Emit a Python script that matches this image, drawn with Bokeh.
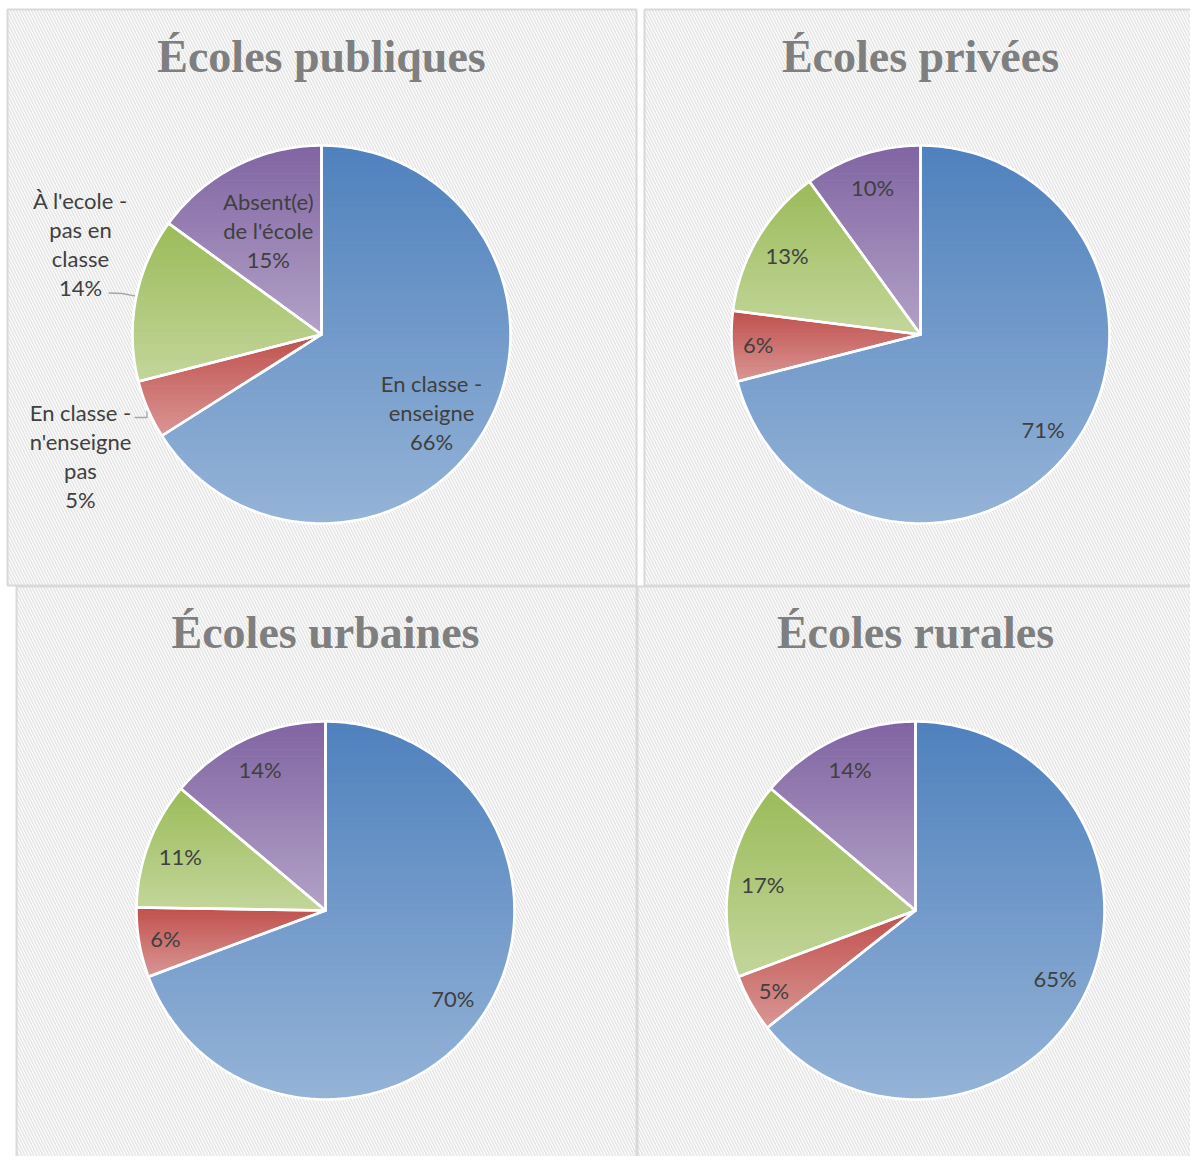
import numpy as np
from bokeh.plotting import figure
from bokeh.models import Range1d
from bokeh.core.properties import value
from bokeh.embed import file_html
from bokeh.resources import INLINE

# ---- data -------------------------------------------------------------
CATEGORIES = [
    "En classe -\nenseigne",
    "En classe -\nn'enseigne\npas",
    "À l'ecole -\npas en\nclasse",
    "Absent(e)\nde l'école",
]
TITLES = ["Écoles publiques", "Écoles privées", "Écoles urbaines", "Écoles rurales"]
PUBLIQUES = [66, 5, 14, 15]
PRIVEES = [71, 6, 13, 10]
URBAINES = [70, 6, 11, 14]
RURALES = [65, 5, 17, 14]
SERIES = [PUBLIQUES, PRIVEES, URBAINES, RURALES]

# ---- styling ----------------------------------------------------------
# top / bottom colour of the vertical gradient of each slice
GRAD_TOP = ["#4f81bd", "#c0504d", "#9bbb59", "#8064a2"]
GRAD_BOT = ["#95b3d7", "#d99694", "#c3d69b", "#b3a2c7"]
LABEL_COLOR = "#404040"
TITLE_COLOR = "#7f7f7f"
LABEL_FONT = value("Lato")
LABEL_SIZE = "22px"
LINE_STEP = 29  # px between lines of a multi-line label

# ---- layout (page pixels, y downwards) -------------------------------
W, H = 1190, 1156
BOXES = [(7, 9, 636, 585), (644, 9, 1198, 585), (16, 586, 636, 1164), (637, 586, 1198, 1164)]
CENTERS = [(321, 334), (920, 334), (325, 910), (915, 910)]
RADIUS = 189
TITLE_DY = -278  # title baseline relative to pie centre

p = figure(width=W, height=H, x_range=Range1d(0, W), y_range=Range1d(H, 0),
           output_backend="svg", toolbar_location=None, min_border=0,
           x_axis_location=None, y_axis_location=None)
p.grid.visible = False
p.outline_line_color = None
p.background_fill_color = "white"
p.border_fill_color = "white"

# hatched panel backgrounds
p.quad(left=[b[0] for b in BOXES], right=[b[2] for b in BOXES],
       top=[b[1] for b in BOXES], bottom=[b[3] for b in BOXES],
       fill_color="#fcfcfc", hatch_pattern="\\", hatch_color="#e4e4e4",
       hatch_scale=6, hatch_weight=1.4, line_color="#d9d9d9", line_width=2)


def hex_rgb(h):
    return np.array([int(h[i:i + 2], 16) for i in (1, 3, 5)], dtype=float)


def rgb_hex(c):
    return "#%02x%02x%02x" % tuple(int(round(v)) for v in c)


def sector(cx, cy, r, a0, a1):
    n = max(3, int(np.ceil((a1 - a0) / (2 * np.pi) * 360)))
    t = np.linspace(a0, a1, n)
    xs = np.concatenate([[cx], cx + r * np.sin(t)])
    ys = np.concatenate([[cy], cy - r * np.cos(t)])
    return xs, ys


def clip_half(pts, keep, cut):
    out = []
    if not pts:
        return out
    prev = pts[-1]
    for cur in pts:
        if keep(cur):
            if not keep(prev):
                out.append(cut(prev, cur))
            out.append(cur)
        elif keep(prev):
            out.append(cut(prev, cur))
        prev = cur
    return out


def cut_at(yv):
    def f(a, b):
        t = (yv - a[1]) / (b[1] - a[1])
        return (a[0] + t * (b[0] - a[0]), yv)
    return f


def band(xs, ys, y0, y1):
    pts = list(zip(xs, ys))
    pts = clip_half(pts, lambda q: q[1] >= y0, cut_at(y0))
    pts = clip_half(pts, lambda q: q[1] <= y1, cut_at(y1))
    return pts


band_xs, band_ys, band_cols = [], [], []
edge_xs, edge_ys = [], []
lab_x, lab_y, lab_t = [], [], []
NB = 60

for k, vals in enumerate(SERIES):
    cx, cy = CENTERS[k]
    total = float(sum(vals))
    start = 0.0
    for i, v in enumerate(vals):
        a0 = start / total * 2 * np.pi
        a1 = (start + v) / total * 2 * np.pi
        start += v
        xs, ys = sector(cx, cy, RADIUS, a0, a1)
        edge_xs.append(list(xs))
        edge_ys.append(list(ys))
        ymin, ymax = ys.min(), ys.max()
        top, bot = hex_rgb(GRAD_TOP[i]), hex_rgb(GRAD_BOT[i])
        edges = np.linspace(ymin, ymax, NB + 1)
        for j in range(NB):
            pts = band(xs, ys, edges[j], edges[j + 1])
            if len(pts) < 3:
                continue
            t = (j + 0.5) / NB
            band_xs.append([q[0] for q in pts])
            band_ys.append([q[1] for q in pts])
            band_cols.append(rgb_hex(top + (bot - top) * t))

        # data labels
        mid = (a0 + a1) / 2
        pct = "%d%%" % v
        if k == 0:
            lines = CATEGORIES[i].split("\n") + [pct]
            if i == 0:
                lx, ly = cx + 110, cy + 78
            elif i == 3:
                f = 0.62
                lx, ly = cx + f * RADIUS * np.sin(mid), cy - f * RADIUS * np.cos(mid)
            else:
                lx = cx - 241
                ly = cy - 91 if i == 2 else cy + 121
                ex, ey = cx + RADIUS * np.sin(mid), cy - RADIUS * np.cos(mid)
                if i == 2:
                    p.line([cx - 213, (cx - 213 + ex) / 2, ex], [cy - 41.5, cy - 41, ey - 3],
                           line_color="#a6a6a6", line_width=1.3)
                else:
                    p.line([cx - 187, ex - 1, ex - 1], [cy + 83, cy + 83, ey + 1],
                           line_color="#a6a6a6", line_width=1.3)
        else:
            f = 0.86 if v / total < 0.08 else 0.82
            lines = [pct]
            lx, ly = cx + f * RADIUS * np.sin(mid), cy - f * RADIUS * np.cos(mid)
        n = len(lines)
        for m, s in enumerate(lines):
            lab_x.append(lx)
            lab_y.append(ly + (m - (n - 1) / 2) * LINE_STEP)
            lab_t.append(s)

p.patches(band_xs, band_ys, fill_color=band_cols, line_color=band_cols, line_width=1)
p.patches(edge_xs, edge_ys, fill_color=None, line_color="white", line_width=2.6,
          line_join="round")

p.text(lab_x, lab_y, text=lab_t, text_font=LABEL_FONT, text_font_size=LABEL_SIZE,
       text_color=LABEL_COLOR, text_align="center", text_baseline="middle")

p.text([c[0] for c in CENTERS], [c[1] + TITLE_DY for c in CENTERS], text=TITLES,
       text_font=value("Liberation Serif"), text_font_style="bold", text_font_size="46px",
       text_color=TITLE_COLOR, text_align="center", text_baseline="middle")

open("out.html", "w").write(file_html(p, INLINE))
